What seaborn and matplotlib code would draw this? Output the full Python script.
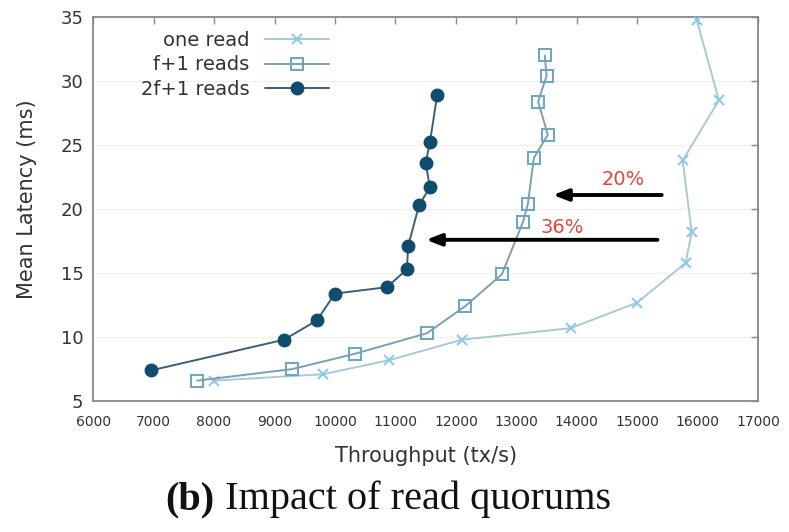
import numpy as np
import pandas as pd
import matplotlib
matplotlib.use("Agg")
import matplotlib.pyplot as plt
import seaborn as sns

# ---- data ----
one_read_x = [8000, 9800, 10900, 12100, 13900, 15000, 15800, 15900, 15750, 16350, 15980]
one_read_y = [6.6, 7.1, 8.2, 9.8, 10.7, 12.7, 15.8, 18.2, 23.8, 28.5, 34.8]

f1_x = [7720, 9290, 10330, 11520, 12150, 12760, 13110, 13190, 13290, 13520, 13360, 13500, 13470]
f1_y = [6.6, 7.5, 8.7, 10.3, 12.4, 14.9, 19.0, 20.4, 24.0, 25.8, 28.4, 30.4, 32.0]

f21_x = [6960, 9160, 9700, 10000, 10860, 11190, 11210, 11390, 11570, 11500, 11570, 11690]
f21_y = [7.4, 9.8, 11.3, 13.4, 13.9, 15.3, 17.1, 20.3, 21.7, 23.6, 25.2, 28.9]

series_names = ["one read", "f+1 reads", "2f+1 reads"]
x_ticks = [6000, 7000, 8000, 9000, 10000, 11000, 12000, 13000, 14000, 15000, 16000, 17000]
y_ticks = [5, 10, 15, 20, 25, 30, 35]

ann_labels = ["20%", "36%"]
ann_arrow_y = [21.1, 17.6]
ann_arrow_from = [15450, 15380]
ann_arrow_to = [13560, 11460]
ann_text_xy = [(14760, 22.3), (13750, 18.6)]

df = pd.concat([
    pd.DataFrame({"x": one_read_x, "y": one_read_y, "s": series_names[0]}),
    pd.DataFrame({"x": f1_x, "y": f1_y, "s": series_names[1]}),
    pd.DataFrame({"x": f21_x, "y": f21_y, "s": series_names[2]}),
], ignore_index=True)

sns.set_style("white")
plt.rcParams["font.family"] = ["DejaVu Sans"]

fig = plt.figure(figsize=(7.89, 5.32), dpi=100)
ax = fig.add_axes([0.118, 0.246, 0.843, 0.722])

styles = {
    "one read": dict(line="#a9c9d6", marker="x", mfc="#9fd3e6", mec="#8fcbe2", ms=7, mew=1.5),
    "f+1 reads": dict(line="#7d9fb0", marker="s", mfc="none", mec="#6aa5c2", ms=9, mew=1.4),
    "2f+1 reads": dict(line="#3d5f70", marker="o", mfc="#0f4c6e", mec="#0f4c6e", ms=9, mew=1.0),
}

for name in series_names:
    st = styles[name]
    sub = df[df["s"] == name]
    sns.lineplot(data=sub, x="x", y="y", sort=False, estimator=None, ax=ax,
                 color=st["line"], lw=1.4, marker=st["marker"], markersize=st["ms"],
                 markerfacecolor=st["mfc"], markeredgecolor=st["mec"], markeredgewidth=st["mew"],
                 label=name, zorder=3)

ax.set_xlim(6000, 17000)
ax.set_ylim(5, 35)
ax.set_xticks(x_ticks)
ax.set_yticks(y_ticks)
ax.set_xticklabels([str(t) for t in x_ticks], fontsize=10, color="#333333")
ax.set_yticklabels([str(t) for t in y_ticks], fontsize=13, color="#333333")
ax.tick_params(direction="in", length=5, width=1, color="#888888", top=True, right=True)
ax.tick_params(axis="x", pad=10)
ax.tick_params(axis="y", pad=7)
ax.yaxis.grid(True, color="#f1f1ea", lw=1)
for sp in ax.spines.values():
    sp.set_color("#888888")
    sp.set_linewidth(1.3)

ax.set_xlabel("Throughput (tx/s)", fontsize=15, color="#333333", labelpad=12)
ax.set_ylabel("Mean Latency (ms)", fontsize=15, color="#333333")
ax.yaxis.set_label_coords(-0.084, 0.526)

for lab, yv, x0, x1, (tx, ty) in zip(ann_labels, ann_arrow_y, ann_arrow_from, ann_arrow_to, ann_text_xy):
    ax.annotate("", xy=(x1, yv), xytext=(x0, yv),
                arrowprops=dict(arrowstyle="-|>,head_length=0.9,head_width=0.35", color="black", lw=2.8),
                zorder=5)
    ax.text(tx, ty, lab, color="#e0463f", fontsize=14, ha="center", va="center", zorder=6)

leg = ax.legend(loc="upper left", bbox_to_anchor=(0.06, 0.985), frameon=False, markerfirst=False,
                fontsize=14, handlelength=3.3, labelspacing=0.3, handletextpad=0.8, borderaxespad=0.0)
for t in leg.get_texts():
    t.set_color("#333333")

# caption: bold "(b)" followed by regular text
cap_y = 0.043
t1 = fig.text(0.21, cap_y, "(b)", fontsize=29, family="Liberation Serif", weight="bold",
              ha="left", va="baseline", color="#111111")
fig.canvas.draw()
bb = t1.get_window_extent(renderer=fig.canvas.get_renderer())
x_end = bb.x1 / fig.bbox.width
fig.text(x_end, cap_y, " Impact of read quorums", fontsize=29, family="Liberation Serif",
         ha="left", va="baseline", color="#111111")

fig.savefig("out.png", dpi=100)
